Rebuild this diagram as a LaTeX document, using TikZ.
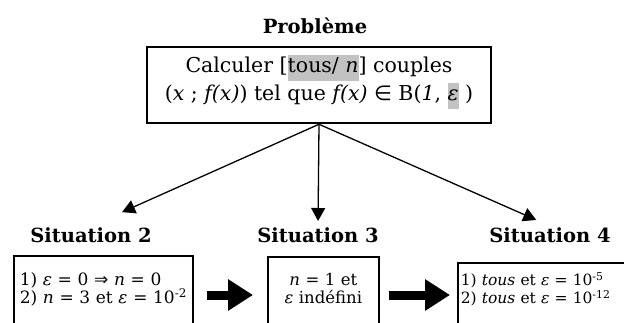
\documentclass[tikz,border=0pt]{standalone}
\usepackage{fontspec}
\setmainfont{DejaVu Serif}
\newfontfamily\symbfont{DejaVu Sans}
\usepackage{xcolor}
\usepackage{tikz}
\usetikzlibrary{arrows.meta, positioning}

\definecolor{grissurligne}{gray}{0.76}
\newcommand{\surligne}[1]{{\setlength{\fboxsep}{0pt}\colorbox{grissurligne}{\rule[-9bp]{0pt}{26bp}#1}}}
\newcommand{\haut}[1]{\rule{0pt}{#1}}
\newcommand{\bas}[1]{\rule[-#1]{0pt}{#1}}

\begin{document}
\begin{tikzpicture}[x=1bp,y=-1bp,
  titre/.style={font=\fontsize{19.5bp}{22bp}\selectfont\bfseries, inner sep=1bp, anchor=base},
  cadre/.style={draw, line width=1.6bp, inner ysep=0pt, anchor=north west,
    font=\fontsize{16.5bp}{18bp}\selectfont},
  fleche/.style={line width=1.3bp, -{Triangle[length=13bp,width=14bp]}},
  grossefleche/.style={line width=9bp, -{Triangle[length=25bp,width=30bp]}}]
  \useasboundingbox (0,0) rectangle (624,322);

  % --- PROBLEME ---
  \node[titre] (probleme) at (315,33) {Problème};
  \node[draw, line width=2.5bp, minimum width=344bp, minimum height=76bp, inner sep=0pt,
    align=center, font=\fontsize{20.5bp}{28bp}\selectfont] (calcul) at (319,85)
    {Calculer [\surligne{tous/ \textit{n}}] couples\\
     (\textit{x} ; \textit{f(x)}) tel que \textit{f(x)} {\symbfont ∈} B(\textit{1}, \surligne{\textit{ε}} )\rule[-15bp]{0pt}{0pt}};

  % --- SITUATIONS ---
  \node[titre] (sit2) at (91,242)  {Situation 2};
  \node[titre] (sit3) at (318,242) {Situation 3};
  \node[titre] (sit4) at (550,242) {Situation 4};

  \node[cadre, inner xsep=3bp, text width=173bp, align=left,
    font=\fontsize{17bp}{18bp}\selectfont] (cadre2) at (13,255)
    {\haut{30bp}\hspace{3bp}1) \textit{ε} = 0 {\symbfont ⇒} \textit{n} = 0\\
     \hspace*{3bp}2) \textit{n} = 3 et \textit{ε} = 10\textsuperscript{-2}\bas{23bp}};
  \node[cadre, inner xsep=4bp, text width=103bp, align=center] (cadre3) at (267,256)
    {\haut{29bp}\textit{n} = 1 et\\
     \textit{ε} indéfini\bas{23bp}};
  \node[cadre, inner xsep=3bp, text width=180bp, align=left,
    font=\fontsize{15.5bp}{18bp}\selectfont] (cadre4) at (457,262)
    {\haut{23bp}1) \textit{tous} et \textit{ε} = 10\textsuperscript{-5}\\
     2) \textit{tous} et \textit{ε} = 10\textsuperscript{-12}\bas{23bp}};

  % Fleches vers les situations
  \foreach \s/\r in {sit2/34, sit3/5, sit4/15}
    \draw[fleche, shorten >=\r bp] (calcul.south) -- (\s.north);

  % Grosses fleches entre les cadres
  \coordinate (ligne) at (0,295);
  \foreach \a/\b/\d/\f in {cadre2/cadre3/13/14, cadre3/cadre4/9/7}
    \draw[grossefleche, shorten <=\d bp, shorten >=\f bp] (\a.east |- ligne) -- (\b.west |- ligne);
\end{tikzpicture}
\end{document}
